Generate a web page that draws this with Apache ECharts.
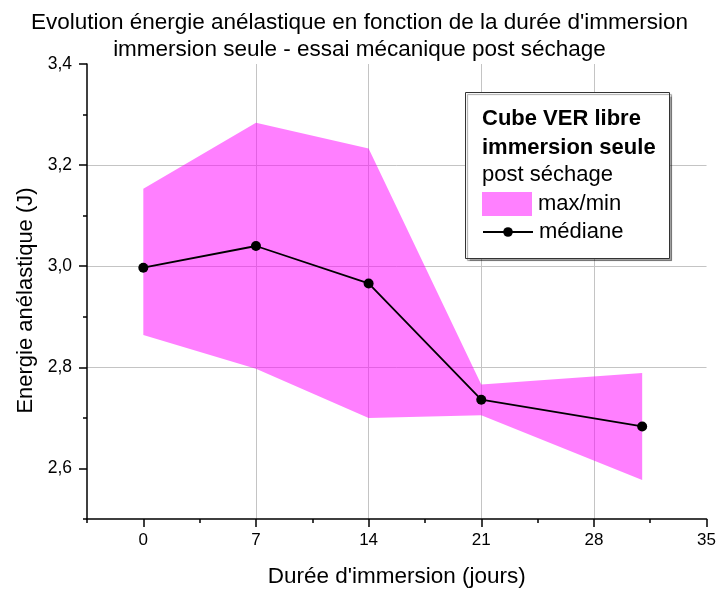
<!DOCTYPE html>
<html>
<head>
<meta charset="utf-8">
<script src="https://cdn.jsdelivr.net/npm/echarts@6/dist/echarts.min.js"></script>
<style>html,body{margin:0;padding:0;background:#fff;}#c{width:719px;height:593px;}</style>
</head>
<body>
<div id="c"></div>
<script>
const days = [0, 7, 14, 21, 31];
const medianValues = [2.997, 3.040, 2.966, 2.736, 2.683];
const maxValues = [3.153, 3.284, 3.233, 2.766, 2.789];
const minValues = [2.864, 2.797, 2.700, 2.705, 2.577];
const xMajorTicks = [0, 7, 14, 21, 28, 35];
const yMajorTicks = [2.6, 2.8, 3.0, 3.2, 3.4];
const titleLines = ["Evolution énergie anélastique en fonction de la durée d'immersion", "immersion seule - essai mécanique post séchage"];
const legendHeader = ["Cube VER libre", "immersion seule", "post séchage"];

const FONT = '"Liberation Sans", Arial, sans-serif';
const chart = echarts.init(document.getElementById('c'), null, {renderer: 'canvas'});

const bandData = days.map((d, i) => [d, minValues[i], maxValues[i]]);
const medData = days.map((d, i) => [d, medianValues[i]]);

const axisColor = '#000';
const gridColor = '#c4c4c4';

function renderBand(params, api) {
  if (params.dataIndex !== 0) return null;
  const upper = [], lower = [];
  for (let i = 0; i < bandData.length; i++) {
    upper.push(api.coord([bandData[i][0], bandData[i][2]]));
    lower.push(api.coord([bandData[i][0], bandData[i][1]]));
  }
  const pts = upper.concat(lower.reverse());
  return {
    type: 'polygon',
    shape: {points: pts},
    style: {fill: 'rgba(255,0,255,0.5)', stroke: 'none'}
  };
}

chart.setOption({
  animation: false,
  backgroundColor: '#fff',
  title: {
    text: titleLines.join('\n'),
    left: 'center', top: 4,
    textStyle: {fontFamily: FONT, fontSize: 22.5, fontWeight: 'normal', color: '#000', lineHeight: 27}
  },
  grid: {left: 87, right: 12, top: 64, bottom: 67, containLabel: false},
  xAxis: [
    {
      type: 'value', min: -3.5, max: 35, interval: 3.5, position: 'bottom',
      axisLine: {show: true, onZero: false, lineStyle: {color: axisColor, width: 1.5}},
      axisTick: {show: true, length: 4, lineStyle: {color: axisColor, width: 1.5}},
      axisLabel: {show: false},
      splitLine: {show: false},
      name: 'Durée d\'immersion (jours)', nameLocation: 'middle', nameGap: 46,
      nameTextStyle: {fontFamily: FONT, fontSize: 22.5, color: '#000'}
    },
    {
      type: 'value', min: -3.5, max: 35, position: 'bottom', offset: 0,
      axisLine: {show: false, onZero: false},
      axisTick: {show: true, length: 8, customValues: xMajorTicks, lineStyle: {color: axisColor, width: 1.5}},
      axisLabel: {show: true, customValues: xMajorTicks, margin: 13, fontFamily: FONT, fontSize: 17, color: '#000'},
      splitLine: {show: true, showMinLine: false, showMaxLine: false, lineStyle: {color: gridColor, width: 1}}
    }
  ],
  yAxis: [
    {
      type: 'value', min: 2.5, max: 3.4, interval: 0.1, position: 'left',
      axisLine: {show: true, onZero: false, lineStyle: {color: axisColor, width: 1.5}},
      axisTick: {show: true, length: 4, lineStyle: {color: axisColor, width: 1.5}},
      axisLabel: {show: false},
      splitLine: {show: false},
      name: 'Energie anélastique (J)', nameLocation: 'middle', nameGap: 50, nameRotate: 90,
      nameTextStyle: {fontFamily: FONT, fontSize: 22, color: '#000', padding: [0, 18, 0, 0]}
    },
    {
      type: 'value', min: 2.5, max: 3.4, position: 'left', offset: 0,
      axisLine: {show: false, onZero: false},
      axisTick: {show: true, length: 8, customValues: yMajorTicks, lineStyle: {color: axisColor, width: 1.5}},
      axisLabel: {show: true, customValues: yMajorTicks, margin: 15, fontFamily: FONT, fontSize: 17.5, color: '#000',
        formatter: v => v.toFixed(1).replace('.', ',')},
      splitLine: {show: true, showMinLine: false, showMaxLine: false, lineStyle: {color: gridColor, width: 1}}
    }
  ],
  legend: [
    {
      data: [{name: 'max/min', icon: 'rect', itemStyle: {color: '#ff80ff', borderWidth: 0}}],
      orient: 'vertical', left: 482, top: 192, itemWidth: 50, itemHeight: 24, itemGap: 0,
      selectedMode: false, padding: 0, z: 60,
      textStyle: {fontFamily: FONT, fontSize: 22, color: '#000', padding: [0, 0, 0, 1]}
    },
    {
      data: ['médiane'],
      orient: 'vertical', left: 482, top: 221, itemWidth: 50, itemHeight: 12, itemGap: 0,
      selectedMode: false, padding: 0, z: 60,
      textStyle: {fontFamily: FONT, fontSize: 22, color: '#000', padding: [0, 0, 0, 1]}
    }
  ],
  graphic: [
    {
      type: 'rect', z: 50, left: 465, top: 92,
      shape: {width: 204, height: 166},
      style: {fill: '#fff', stroke: '#333', lineWidth: 1, shadowColor: 'rgba(0,0,0,0.35)', shadowOffsetX: 2, shadowOffsetY: 2, shadowBlur: 1}
    },
    {
      type: 'text', z: 51, left: 482, top: 108,
      style: {text: legendHeader[0], fontFamily: FONT, fontSize: 22, fontWeight: 'bold', fill: '#000'}
    },
    {
      type: 'text', z: 51, left: 482, top: 137,
      style: {text: legendHeader[1], fontFamily: FONT, fontSize: 22, fontWeight: 'bold', fill: '#000'}
    },
    {
      type: 'text', z: 51, left: 482, top: 164,
      style: {text: legendHeader[2], fontFamily: FONT, fontSize: 22, fontWeight: 'normal', fill: '#000'}
    }
  ],
  series: [
    {
      name: 'max/min', type: 'custom', data: bandData, xAxisIndex: 0, yAxisIndex: 0,
      renderItem: renderBand, encode: {x: 0, y: [1, 2]},
      itemStyle: {color: '#ff80ff'}, silent: true, z: 2
    },
    {
      name: 'médiane', type: 'line', data: medData, xAxisIndex: 0, yAxisIndex: 0,
      symbol: 'circle', symbolSize: 10,
      lineStyle: {color: '#000', width: 1.8}, itemStyle: {color: '#000'}, z: 5
    }
  ]
});
</script>
</body>
</html>
